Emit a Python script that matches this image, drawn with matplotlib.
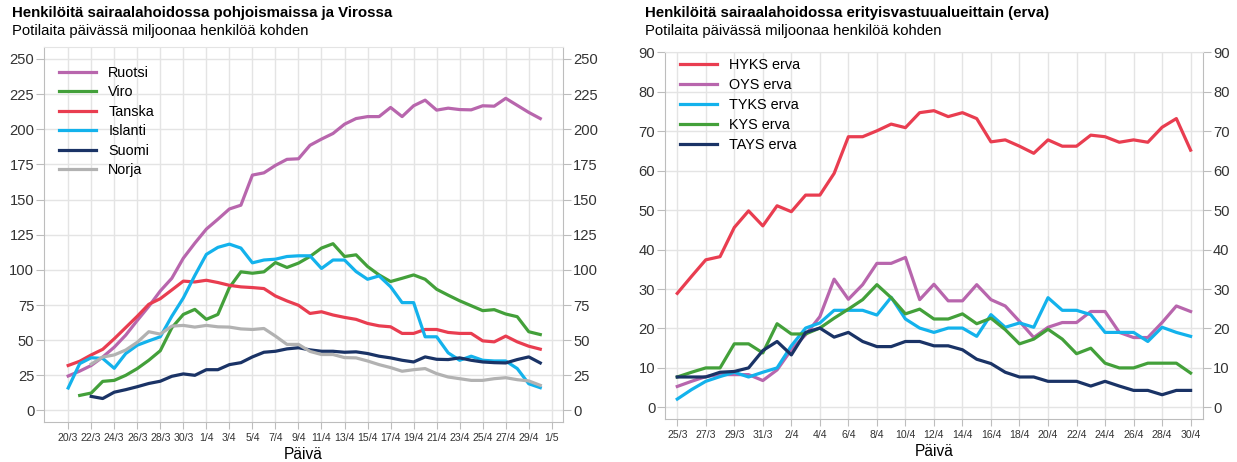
import numpy as np
import matplotlib.pyplot as plt

plt.rcParams['font.family'] = ['Liberation Sans', 'DejaVu Sans']

nan = np.nan

# Pohjoismaat ja Viro, päivät 20/3 - 30/4
paivat_pohj = np.arange(42)
xtick_pohj = ['20/3', '22/3', '24/3', '26/3', '28/3', '30/3', '1/4', '3/4', '5/4', '7/4', '9/4',
              '11/4', '13/4', '15/4', '17/4', '19/4', '21/4', '23/4', '25/4', '27/4', '29/4', '1/5']

ruotsi = [24.5, 28, 32, 38, 45, 53.6, 64, 74, 85, 94, 108.3, 119, 129, 136, 143.3, 146, 167.4, 169,
          174.3, 178.6, 179, 188.6, 193, 197, 203.6, 207.6, 209, 209, 215.5, 209, 216.7, 220.7, 213.6,
          215, 214, 213.8, 216.7, 216.4, 222, 217, 212, 207.6]
viro = [nan, 10.7, 12.4, 20.7, 21.4, 25, 29.8, 35.7, 42.5, 58.8, 68.3, 71.9, 64.8, 68.3, 87.4, 98.6,
        97.6, 98.6, 105.2, 101.7, 104.8, 109.5, 115.5, 118.6, 109.5, 110.7, 102.4, 96.4, 91.7, 94,
        96.4, 93.3, 86.2, 82, 78, 74.5, 71, 71.7, 68.6, 66.7, 56, 54]
tanska = [32, 35, 39.5, 43.5, 51, 59, 67, 75.5, 79.5, 85.7, 92, 91.4, 92.6, 91, 89, 87.9, 87.4, 86.7,
          81.4, 77.9, 74.8, 69, 70.2, 67.9, 66.2, 64.8, 61.9, 60.2, 59.5, 54.8, 54.8, 57.6, 57.6, 55.5,
          54.8, 54.8, 49.5, 48.8, 52.9, 48.8, 45.7, 43.6]
islanti = [16, 33.3, 37.5, 37, 30, 40.5, 46.4, 49.5, 52.4, 67, 80, 96, 111, 116, 118.3, 115.5, 105, 107,
           107.6, 109.5, 110, 110, 101, 107, 107, 98.8, 93.3, 95.7, 88, 76.7, 76.7, 52.4, 52.4, 41,
           35.7, 38.6, 35.7, 35.2, 35.2, 29.8, 19, 16.2]
suomi = [nan, nan, 10, 8.5, 13, 14.8, 16.9, 19.2, 20.8, 24.3, 26, 25, 29, 29, 32.6, 34, 38.1, 41.4,
         42.1, 43.8, 44.6, 43.1, 42.1, 42.1, 41.4, 41.7, 40.5, 38.6, 37.4, 35.7, 34.5, 38.1, 36.4,
         36.2, 37.4, 35.7, 34.5, 34, 33.8, 36.2, 38.1, 33.8]
norja = [nan, nan, 33, 38, 39.5, 43, 48.5, 56, 54.3, 60, 60.5, 59.3, 60.5, 59.5, 59.3, 58, 57.6, 58.3,
         52.9, 47, 47, 42, 39.8, 39.8, 37.6, 37.4, 35.2, 32.6, 30.5, 27.9, 29, 29.8, 26.2, 23.8, 22.6,
         21.4, 21.4, 22.6, 23.3, 21.9, 21, 17.9]

# Erityisvastuualueet, päivät 25/3 - 30/4
paivat_erva = np.arange(37)
xtick_erva = ['25/3', '27/3', '29/3', '31/3', '2/4', '4/4', '6/4', '8/4', '10/4', '12/4', '14/4',
              '16/4', '18/4', '20/4', '22/4', '24/4', '26/4', '28/4', '30/4']

hyks = [28.9, 33.2, 37.4, 38.2, 45.6, 49.8, 46, 51.1, 49.6, 53.8, 53.8, 59.3, 68.6, 68.6, 70.1, 71.8,
        70.9, 74.7, 75.2, 73.7, 74.7, 73.2, 67.3, 67.8, 66.2, 64.4, 67.8, 66.2, 66.2, 69, 68.6, 67.2,
        67.8, 67.2, 71, 73.2, 65.2]
oys = [5.3, 6.6, 7.8, 8.3, 8.3, 8.3, 6.8, 9.5, 14.6, 18.4, 23, 32.5, 27.4, 31.1, 36.5, 36.5, 38, 27.3,
       31.2, 27, 27, 31.1, 27.3, 25.7, 21.8, 17.7, 20.3, 21.5, 21.5, 24.3, 24.3, 19, 17.7, 17.7, 21.5,
       25.7, 24.3]
tyks = [2.1, 4.5, 6.6, 7.8, 8.9, 7.7, 8.9, 10, 15.6, 20.1, 21.4, 24.6, 24.6, 24.6, 23.4, 27.9, 22.4,
        20.1, 19, 20.1, 20.1, 18, 23.5, 20.3, 21.4, 20.3, 27.8, 24.6, 24.6, 23.5, 19, 19, 19, 16.7,
        20.3, 19, 18]
kys = [7.7, 8.9, 10, 10, 16.1, 16.1, 13.8, 21.2, 18.6, 18.6, 20.1, 22.6, 24.9, 27.3, 31.1, 27.8, 23.7,
       24.9, 22.4, 22.4, 23.7, 21.2, 22.6, 19.7, 16.1, 17.3, 19.8, 17.3, 13.6, 15, 11.2, 10, 10, 11.2,
       11.2, 11.2, 8.7]
tays = [7.7, 7.7, 7.7, 8.9, 9.1, 10, 14.4, 16.7, 13.3, 19, 20.1, 17.8, 19, 16.7, 15.4, 15.4, 16.7,
        16.7, 15.6, 15.6, 14.6, 12.2, 11.1, 8.9, 7.7, 7.7, 6.6, 6.6, 6.6, 5.4, 6.6, 5.4, 4.3, 4.3, 3.2,
        4.3, 4.3]

pinkki = '#b866ad'
vihrea = '#43a03a'
punainen = '#e93d50'
syaani = '#13b2ec'
tummansininen = '#1a3366'
harmaa = '#b2b2b2'


def muotoile(ax, xtickit, xlabels, ylim, xlim, yticks):
    ax.set_xlim(xlim)
    ax.set_ylim(ylim)
    ax.set_xticks(xtickit)
    ax.set_xticklabels(xlabels, fontsize=7.6, color='#333333')
    ax.set_yticks(yticks)
    ax.grid(True, color='#e4e4e4', lw=1)
    ax.set_axisbelow(True)
    for s in ['left', 'right', 'bottom']:
        ax.spines[s].set_color('#bdbdbd')
    ax.spines['top'].set_color('#e4e4e4')
    ax.tick_params(axis='y', left=True, right=True, labelleft=True, labelright=True,
                   length=5.5, pad=1.5, color='#bdbdbd', labelsize=10.6, labelcolor='#333333')
    ax.tick_params(axis='x', length=5, pad=3, color='#bdbdbd')
    ax.set_xlabel('Päivä', fontsize=11.2, labelpad=2.5)


fig = plt.figure(figsize=(12.37, 4.62), dpi=100)

ax1 = fig.add_axes([44 / 1237, 1 - 422 / 462, 519.3 / 1237, 375 / 462])
ax1.plot(paivat_pohj, ruotsi, color=pinkki, lw=2.3, label='Ruotsi')
ax1.plot(paivat_pohj, viro, color=vihrea, lw=2.3, label='Viro')
ax1.plot(paivat_pohj, tanska, color=punainen, lw=2.3, label='Tanska')
ax1.plot(paivat_pohj, islanti, color=syaani, lw=2.3, label='Islanti')
ax1.plot(paivat_pohj, suomi, color=tummansininen, lw=2.3, label='Suomi')
ax1.plot(paivat_pohj, norja, color=harmaa, lw=2.3, label='Norja')
muotoile(ax1, np.arange(0, 43, 2), xtick_pohj, (-8.2, 258.5), (-2.1, 43.0), np.arange(0, 251, 25))
ax1.legend(loc='upper left', bbox_to_anchor=(0.029, 0.95), frameon=False, fontsize=10.4,
           handlelength=2.55, handletextpad=0.85, labelspacing=0.38, borderpad=0, borderaxespad=0)

ax2 = fig.add_axes([665 / 1237, 1 - 419 / 462, 538.3 / 1237, 366.7 / 462])
ax2.plot(paivat_erva, hyks, color=punainen, lw=2.3, label='HYKS erva')
ax2.plot(paivat_erva, oys, color=pinkki, lw=2.3, label='OYS erva')
ax2.plot(paivat_erva, tyks, color=syaani, lw=2.3, label='TYKS erva')
ax2.plot(paivat_erva, kys, color=vihrea, lw=2.3, label='KYS erva')
ax2.plot(paivat_erva, tays, color=tummansininen, lw=2.3, label='TAYS erva')
muotoile(ax2, np.arange(0, 37, 2), xtick_erva, (-2.95, 90), (-0.86, 36.89), np.arange(0, 91, 10))
ax2.legend(loc='upper left', bbox_to_anchor=(0.028, 0.985), frameon=False, fontsize=10.4,
           handlelength=2.55, handletextpad=0.85, labelspacing=0.42, borderpad=0, borderaxespad=0)

fig.text(12 / 1237, 1 - 13 / 462, 'Henkilöitä sairaalahoidossa pohjoismaissa ja Virossa',
         fontsize=10.8, fontweight='bold', va='center')
fig.text(12 / 1237, 1 - 30.5 / 462, 'Potilaita päivässä miljoonaa henkilöä kohden', fontsize=10.7, va='center')
fig.text(645 / 1237, 1 - 13 / 462, 'Henkilöitä sairaalahoidossa erityisvastuualueittain (erva)',
         fontsize=10.8, fontweight='bold', va='center')
fig.text(645 / 1237, 1 - 30.5 / 462, 'Potilaita päivässä miljoonaa henkilöä kohden', fontsize=10.7, va='center')

fig.savefig('out.png', dpi=100)
